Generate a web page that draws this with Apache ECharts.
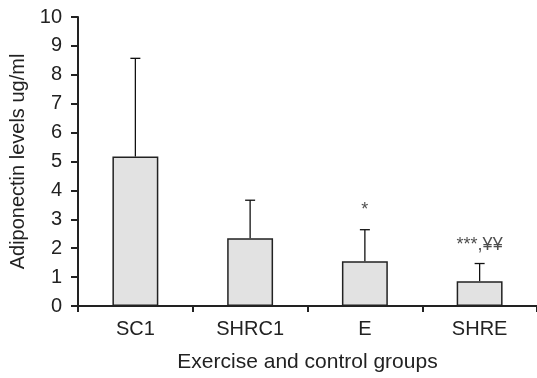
<!DOCTYPE html>
<html><head><meta charset="utf-8">
<script src="https://cdn.jsdelivr.net/npm/echarts@6/dist/echarts.min.js"></script>
<style>html,body{margin:0;padding:0;background:#fff}#c{width:537px;height:378px}</style>
</head><body><div id="c"></div>
<script>
var categories = ['SC1', 'SHRC1', 'E', 'SHRE'];
var means = [5.17, 2.34, 1.55, 0.86];
var errTops = [8.57, 3.66, 2.64, 1.47];
var annotations = ['', '', '*', '***,¥¥'];
var annotationY = [null, null, 3.33, 2.1];
var yTicks = [0, 1, 2, 3, 4, 5, 6, 7, 8, 9, 10];

var FONT = 'Liberation Sans, Arial, sans-serif';
var chart = echarts.init(document.getElementById('c'), null, {renderer: 'canvas'});
var errData = categories.map(function (c, i) { return [i, means[i], errTops[i]]; });
var annData = [];
categories.forEach(function (c, i) { if (annotations[i]) annData.push({value: [i, annotationY[i]], text: annotations[i]}); });

chart.setOption({
  animation: false,
  grid: {left: 78, right: 0, top: 17, bottom: 69},
  xAxis: {
    type: 'category', data: categories, boundaryGap: true,
    axisLine: {lineStyle: {color: '#222', width: 2}},
    axisTick: {show: true, length: 6, lineStyle: {color: '#222', width: 2}},
    axisLabel: {color: '#222', fontSize: 20, fontFamily: FONT, margin: 13},
    name: 'Exercise and control groups', nameLocation: 'middle', nameGap: 46,
    nameTextStyle: {color: '#222', fontSize: 21, fontFamily: FONT}
  },
  yAxis: {
    type: 'value', min: 0, max: 10, interval: 1,
    axisLine: {show: true, lineStyle: {color: '#222', width: 2}},
    axisTick: {show: true, length: 7, lineStyle: {color: '#222', width: 2}},
    splitLine: {show: false},
    axisLabel: {color: '#222', fontSize: 20, fontFamily: FONT, margin: 16},
    name: 'Adiponectin levels ug/ml', nameLocation: 'middle', nameGap: 44,
    nameTextStyle: {color: '#222', fontSize: 20, fontFamily: FONT}
  },
  series: [
    {
      type: 'bar', data: means, barWidth: '40%',
      itemStyle: {color: '#e2e2e2', borderColor: '#222', borderWidth: 1.5},
      z: 2
    },
    {
      type: 'custom', data: errData, z: 1,
      renderItem: function (params, api) {
        var x = api.value(0);
        var base = api.coord([x, api.value(1)]);
        var top = api.coord([x, api.value(2)]);
        var hw = 5;
        return {type: 'group', children: [
          {type: 'line', shape: {x1: base[0], y1: base[1], x2: top[0], y2: top[1]}, style: {stroke: '#111', lineWidth: 1.3}},
          {type: 'line', shape: {x1: top[0] - hw, y1: top[1], x2: top[0] + hw, y2: top[1]}, style: {stroke: '#111', lineWidth: 1.3}}
        ]};
      }
    },
    {
      type: 'scatter', data: annData, symbolSize: 0, silent: true,
      label: {show: true, position: 'inside', formatter: function (p) { return p.data.text; },
        color: '#222', fontSize: 18, fontFamily: FONT}
    }
  ]
});
</script></body></html>
